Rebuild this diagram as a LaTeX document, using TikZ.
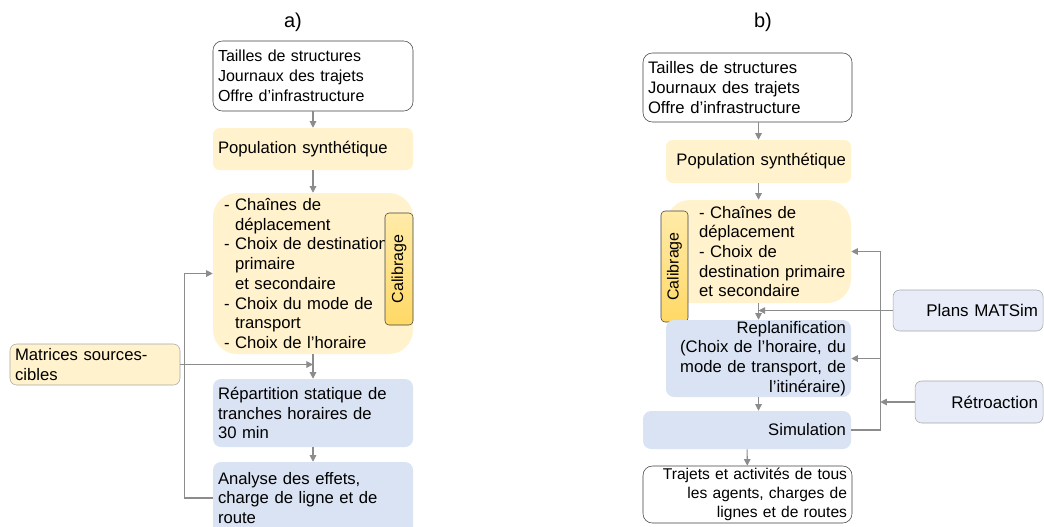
\documentclass[tikz,border=0pt]{standalone}
\usepackage{fontspec}
\setmainfont{Liberation Sans}
\usetikzlibrary{arrows.meta}

\definecolor{jaune}{HTML}{FFF2CC}
\definecolor{bleu}{HTML}{DAE3F3}
\definecolor{bleuclair}{HTML}{E7ECF8}
\definecolor{orclair}{HTML}{FFEAA8}
\definecolor{or}{HTML}{FFD966}
\definecolor{trait}{HTML}{8C8C8C}

\tikzset{
	boite/.style={rectangle, inner xsep=3.75pt, inner ysep=0pt, font=\fontsize{12.5}{14.8}\selectfont},
	entree/.style={boite, draw=black!75, fill=white, rounded corners=7pt},
	etape/.style={boite, fill=jaune, rounded corners=5pt},
	calcul/.style={boite, fill=bleu, rounded corners=6pt},
	externe/.style={boite, draw=black!35, fill=bleuclair, rounded corners=5pt, align=right, font=\fontsize{12.7}{14.8}\selectfont},
	calib/.style={boite, draw=black!75, top color=orclair, bottom color=or, rounded corners=3pt, rotate=90, align=center, font=\fontsize{12}{14.8}\selectfont},
	fleche/.style={draw=trait, line width=0.8pt, -{Triangle[length=5pt,width=5pt]}},
	titre/.style={font=\fontsize{15}{18}\selectfont}
}
\newcommand{\tiret}{\hspace*{4.5pt}\makebox[8.25pt][l]{-}}
\newcommand{\suite}{\hspace*{12.75pt}}

\begin{document}
\begin{tikzpicture}[x=0.75pt, y=-0.75pt] %Une unité = un pixel de l'image
					\path[use as bounding box, clip] (0,0) rectangle (1044,526); %Cadre de la figure
						%Partie a)
					\node[titre] (titreA) at (293,22) {a)};
					\node[entree, align=left, minimum width=150pt, text width=142.5pt, minimum height=52.5pt, font=\fontsize{12}{14.8}\selectfont] (inA) at (313,76) {Tailles de structures\\Journaux des trajets\\Offre d’infrastructure};
					\node[etape, align=left, minimum width=150pt, text width=142.5pt, minimum height=31.5pt] (popA) at (313,149) {Population synthétique};
					\node[etape, rounded corners=18pt, align=left, minimum width=150pt, text width=142.5pt, minimum height=120.75pt] (chA) at (313,273.5) {\tiret Chaînes de\\\suite déplacement\\\tiret Choix de destination\\\suite primaire\\\suite et secondaire\\\tiret Choix du mode de\\\suite transport\\\tiret Choix de l’horaire};
					\node[calib, minimum width=84pt, minimum height=21pt] (calA) at (399,269) {Calibrage};
					\node[etape, draw=black!35, align=left, minimum width=127.5pt, text width=120pt, minimum height=30.75pt] (matA) at (95,364.5) {Matrices sources-\\cibles};
					\node[calcul, align=left, minimum width=150pt, text width=142.5pt, minimum height=51pt] (repA) at (313,413) {Répartition statique de\\tranches horaires de\\30 min};
					\node[calcul, align=left, minimum width=150pt, text width=142.5pt, minimum height=54pt] (anaA) at (313,498) {Analyse des effets,\\charge de ligne et de\\route};
					\coordinate (busA) at ([xshift=3pt]matA.east); %Ligne verticale des matrices
						%Flèches a)
					\draw[fleche] (inA) -- (popA);
					\draw[fleche] (popA) -- (chA);
					\draw[fleche] (chA) -- (repA);
					\draw[fleche] (repA) -- (anaA);
					\draw[fleche] (matA.east) -- (matA.east -| chA.south);
					\draw[fleche] (anaA.west) -| (busA) |- (chA.west);
						%Partie b)
					\node[titre] (titreB) at (763,22) {b)};
					\node[entree, align=left, minimum width=156.75pt, text width=149.25pt, minimum height=51.75pt, inner xsep=3pt] (inB) at (747.5,87.5) {Tailles de structures\\Journaux des trajets\\Offre d’infrastructure};
					\node[etape, align=right, minimum width=138.75pt, text width=131.25pt, minimum height=32.25pt] (popB) at (758.5,161.5) {Population synthétique};
					\node[etape, rounded corners=18pt, align=left, minimum width=138.75pt, text width=131.25pt, minimum height=77.25pt] (chB) at (758.5,251.5) {\hspace*{21pt}- Chaînes de\\\hspace*{21pt}déplacement\\\hspace*{21pt}- Choix de\\\hspace*{21pt}destination primaire\\\hspace*{21pt}et secondaire};
					\node[calib, minimum width=83.25pt, minimum height=20.25pt] (calB) at (674.5,266.5) {Calibrage};
					\node[calcul, align=right, minimum width=138.75pt, text width=131.25pt, minimum height=57.75pt] (repB) at (758.5,358.5) {Replanification\\(Choix de l’horaire, du\\mode de transport, de\\l’itinéraire)};
					\node[calcul, align=right, minimum width=156pt, text width=148.5pt, minimum height=28.5pt] (simB) at (747,430) {Simulation};
					\node[entree, align=right, minimum width=156.75pt, text width=149.25pt, minimum height=42.75pt, font=\fontsize{11.7}{14.3}\selectfont] (outB) at (747.5,494.5) {Trajets et activités de tous\\les agents, charges de\\lignes et de routes};
					\node[externe, minimum width=112.5pt, text width=105pt, minimum height=30.75pt] (plans) at (968,310.5) {Plans MATSim};
					\node[externe, minimum width=96pt, text width=88.5pt, minimum height=31.5pt] (retro) at (979,402) {Rétroaction};
					\coordinate (busB) at ([xshift=21.75pt]repB.east); %Ligne verticale de rétroaction
						%Flèches b)
					\draw[fleche] (inB.south -| popB.north) -- (popB.north);
					\draw[fleche] (popB) -- (chB);
					\draw[fleche] (chB) -- (repB);
					\draw[fleche] (repB.south) -- (repB.south |- simB.north);
					\draw[fleche] (simB) -- (outB);
					\draw[fleche] (plans.west) -- (plans.west -| repB.north);
					\draw[fleche] (simB.east) -| (busB) |- (chB.east);
					\draw[fleche] (busB) -- (repB.east);
					\draw[fleche] (retro.west) -- (retro.west -| busB);
				\end{tikzpicture}
\end{document}
